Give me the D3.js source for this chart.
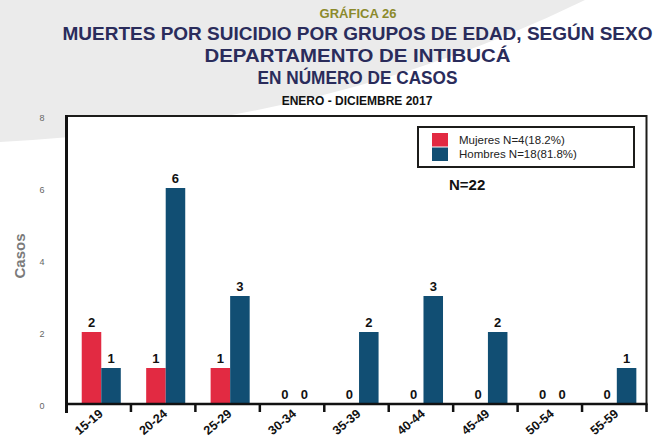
<!DOCTYPE html>
<html>
<head>
<meta charset="utf-8">
<script src="https://cdn.jsdelivr.net/npm/d3@7"></script>
<style>
  html, body { margin: 0; padding: 0; background: #fff; }
  svg { display: block; font-family: "Liberation Sans", Arial, sans-serif; }
</style>
</head>
<body>
<svg id="main" width="670" height="439"></svg>
<script>
// age groups and counts per sex
const ageGroups = ["15-19", "20-24", "25-29", "30-34", "35-39", "40-44", "45-49", "50-54", "55-59"];
const mujeres = [2, 1, 1, 0, 0, 0, 0, 0, 0];
const hombres = [1, 6, 3, 0, 2, 3, 2, 0, 1];
const seriesNames = ["Mujeres", "Hombres"];
const legendLabels = ["Mujeres N=4(18.2%)", "Hombres N=18(81.8%)"];
const yTicks = [0, 2, 4, 6, 8];
const total = "N=22";

const colors = { Mujeres: "#e22a42", Hombres: "#114e73" };

const plot = { left: 66.5, right: 646.5, top: 116, bottom: 404 };

const svg = d3.select("#main");

// background with the grey swoosh on top
svg.append("rect").attr("width", 670).attr("height", 439).attr("fill", "#fff");
svg.append("path")
    .attr("d", "M0,0 L585,0 Q330,125 0,142 Z")
    .attr("fill", "#ebebeb");

// titles (reference font is condensed, so widths are fixed)
const titles = svg.append("g").attr("text-anchor", "middle").attr("font-weight", "bold");
titles.append("text").attr("x", 358).attr("y", 18)
    .attr("font-size", 13).attr("fill", "#8b8a2c").text("GRÁFICA 26");
const titleLines = [
    { text: "MUERTES POR SUICIDIO POR GRUPOS DE EDAD, SEGÚN SEXO", y: 40, w: 590 },
    { text: "DEPARTAMENTO DE INTIBUCÁ", y: 62, w: 306 },
    { text: "EN NÚMERO DE CASOS", y: 84, w: 200 }
];
titles.selectAll(".tl")
    .data(titleLines)
    .enter().append("text")
    .attr("x", 357.5).attr("y", d => d.y)
    .attr("font-size", 19).attr("fill", "#2a2c5b")
    .attr("textLength", d => d.w).attr("lengthAdjust", "spacingAndGlyphs")
    .text(d => d.text);
titles.append("text").attr("x", 357).attr("y", 105)
    .attr("font-size", 12).attr("fill", "#111").text("ENERO - DICIEMBRE 2017");

// scales
const x0 = d3.scaleBand()
    .domain(ageGroups)
    .range([plot.left, plot.right])
    .padding(0);

const x1 = d3.scaleBand()
    .domain(seriesNames)
    .range([0, x0.bandwidth()])
    .paddingInner(0)
    .paddingOuter(0.65)
    .align(0.6);

const y = d3.scaleLinear()
    .domain([0, 8])
    .range([plot.bottom, plot.top]);

// plot area
svg.append("rect")
    .attr("x", plot.left).attr("y", plot.top)
    .attr("width", plot.right - plot.left).attr("height", plot.bottom - plot.top)
    .attr("fill", "#fff");

// y axis labels
const yAxis = svg.append("g")
    .attr("transform", `translate(${plot.left},0)`)
    .call(d3.axisLeft(y).tickValues(yTicks).tickSize(0).tickPadding(22));
yAxis.select(".domain").remove();
yAxis.selectAll("text")
    .attr("font-family", "Liberation Sans, Arial, sans-serif")
    .attr("font-size", 9).attr("fill", "#666")
    .attr("dy", "0.5em");

svg.append("text")
    .attr("transform", `translate(25,256) rotate(-90)`)
    .attr("text-anchor", "middle")
    .attr("font-size", 15).attr("font-weight", "bold").attr("fill", "#7a7a7a")
    .text("Casos");

// bars
const rows = ageGroups.map((g, i) => ({ group: g, values: [
    { key: "Mujeres", value: mujeres[i] },
    { key: "Hombres", value: hombres[i] }
] }));

const groups = svg.append("g").selectAll("g")
    .data(rows)
    .enter().append("g")
    .attr("transform", d => `translate(${x0(d.group)},0)`);

groups.selectAll("rect")
    .data(d => d.values)
    .enter().append("rect")
    .attr("x", d => x1(d.key))
    .attr("y", d => y(d.value))
    .attr("width", x1.bandwidth())
    .attr("height", d => y(0) - y(d.value))
    .attr("fill", d => colors[d.key]);

groups.selectAll("text")
    .data(d => d.values)
    .enter().append("text")
    .attr("x", d => x1(d.key) + x1.bandwidth() / 2)
    .attr("y", d => y(d.value) - 5)
    .attr("text-anchor", "middle")
    .attr("font-size", 13).attr("font-weight", "bold").attr("fill", "#111")
    .text(d => d.value);

// frame
svg.append("path")
    .attr("d", `M${plot.left},${plot.top} H${plot.right} V${plot.bottom}`)
    .attr("fill", "none").attr("stroke", "#1c1c1a").attr("stroke-width", 2);
svg.append("line")
    .attr("x1", plot.left).attr("x2", plot.left)
    .attr("y1", plot.top - 1).attr("y2", plot.bottom + 9)
    .attr("stroke", "#111").attr("stroke-width", 3);
svg.append("line")
    .attr("x1", plot.left).attr("x2", plot.right + 1)
    .attr("y1", plot.bottom).attr("y2", plot.bottom)
    .attr("stroke", "#111").attr("stroke-width", 2.5);

// x ticks at band boundaries
const boundaries = ageGroups.map(g => x0(g)).concat([plot.right]);
svg.append("g").selectAll("line")
    .data(boundaries)
    .enter().append("line")
    .attr("x1", d => d).attr("x2", d => d)
    .attr("y1", plot.bottom).attr("y2", plot.bottom + 8)
    .attr("stroke", "#111").attr("stroke-width", 2.5);

// x labels
svg.append("g").selectAll("text")
    .data(ageGroups)
    .enter().append("text")
    .attr("transform", d => `translate(${x0(d) + x0.bandwidth() / 2 + 5},415) rotate(-40)`)
    .attr("text-anchor", "end")
    .attr("font-size", 12.5).attr("font-weight", "bold").attr("fill", "#111")
    .text(d => d);

// legend
const legend = svg.append("g");
legend.append("rect")
    .attr("x", 418).attr("y", 127).attr("width", 216).attr("height", 40)
    .attr("fill", "#fff").attr("stroke", "#1c1c1a").attr("stroke-width", 2);
legend.selectAll(".sw")
    .data(seriesNames)
    .enter().append("rect")
    .attr("x", 432).attr("y", (d, i) => 133 + i * 14.5)
    .attr("width", 16).attr("height", 13.5)
    .attr("fill", d => colors[d]);
legend.selectAll(".lt")
    .data(legendLabels)
    .enter().append("text")
    .attr("x", 459).attr("y", (d, i) => 144 + i * 14)
    .attr("font-size", 11.5).attr("fill", "#222")
    .text(d => d);

svg.append("text")
    .attr("x", 449).attr("y", 190)
    .attr("font-size", 15).attr("font-weight", "bold").attr("fill", "#111")
    .text(total);
</script>
</body>
</html>
